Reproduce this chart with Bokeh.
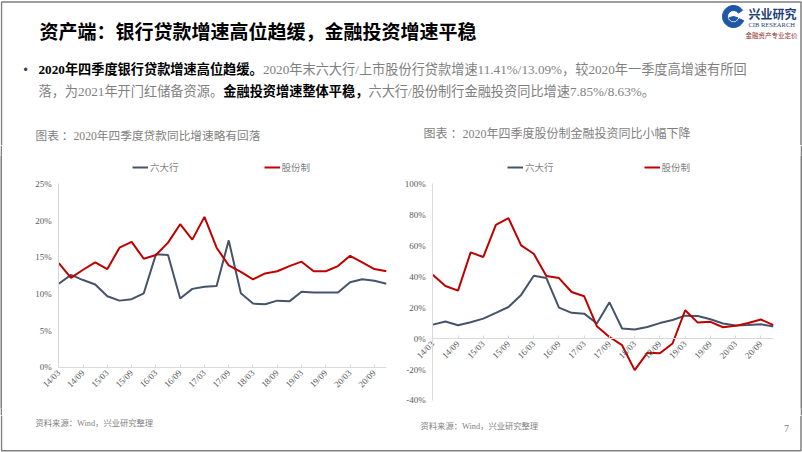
import math
from bokeh.plotting import figure
from bokeh.models import Range1d, Legend, LegendItem, FixedTicker, PrintfTickFormatter
from bokeh.layouts import column, row
from bokeh.embed import file_html
from bokeh.resources import INLINE
from bokeh.core.properties import value

# ---------------- data ----------------
quarters = ["14/03", "14/06", "14/09", "14/12", "15/03", "15/06", "15/09", "15/12",
            "16/03", "16/06", "16/09", "16/12", "17/03", "17/06", "17/09", "17/12",
            "18/03", "18/06", "18/09", "18/12", "19/03", "19/06", "19/09", "19/12",
            "20/03", "20/06", "20/09", "20/12"]
tick_labels = ["14/03", "14/09", "15/03", "15/09", "16/03", "16/09", "17/03",
               "17/09", "18/03", "18/09", "19/03", "19/09", "20/03", "20/09"]
series_names = ["六大行", "股份制"]

loan_big6 = [11.4, 12.6, 11.9, 11.3, 9.7, 9.1, 9.3, 10.1, 15.4, 15.3, 9.4, 10.7, 11.0, 11.1,
             17.3, 10.1, 8.7, 8.6, 9.1, 9.0, 10.3, 10.2, 10.2, 10.2, 11.6, 12.0, 11.8, 11.41]
loan_jsc = [14.2, 12.2, 13.3, 14.3, 13.4, 16.3, 17.1, 14.8, 15.3, 17.0, 19.5, 17.4, 20.5, 16.3,
            13.9, 13.0, 12.0, 12.8, 13.1, 13.8, 14.4, 13.1, 13.1, 13.8, 15.2, 14.3, 13.4, 13.09]
inv_big6 = [9.0, 11.0, 8.6, 10.5, 12.9, 16.6, 20.4, 28.2, 40.6, 39.1, 20.0, 16.6, 16.1, 9.7,
            23.4, 6.5, 5.8, 7.5, 10.0, 12.0, 14.8, 14.6, 12.5, 9.7, 8.4, 8.7, 9.2, 7.85]
inv_jsc = [41.3, 34.0, 31.0, 55.7, 52.7, 73.5, 77.8, 60.2, 54.8, 40.4, 39.1, 30.1, 27.3, 8.0,
           1.0, -4.3, -20.4, -9.2, -9.5, -3.2, 18.3, 10.3, 10.8, 7.3, 8.2, 10.1, 12.3, 8.63]

slide_title = "资产端：银行贷款增速高位趋缓，金融投资增速平稳"
chart_title_left = "图表 ：2020年四季度贷款同比增速略有回落"
chart_title_right = "图表 ：2020年四季度股份制金融投资同比小幅下降"
source_text = "资料来源：Wind，兴业研究整理"
bullet_line1 = [("2020年四季度银行贷款增速高位趋缓。", True),
                ("2020年末六大行/上市股份行贷款增速11.41%/13.09%，较2020年一季度高增速有所回", False)]
bullet_line2 = [("落，为2021年开门红储备资源。", False),
                ("金融投资增速整体平稳，", True),
                ("六大行/股份制行金融投资同比增速7.85%/8.63%。", False)]

# ---------------- style ----------------
NAVY = "#44546a"
RED = "#c00000"
BORDER = "#7f7f7f"
SERIF = "Liberation Serif, Noto Sans CJK SC"
CJK = "Noto Sans CJK SC"

REG = {"0": .5, "1": .5, "2": .5, "3": .5, "4": .5, "5": .5, "6": .5, "7": .5, "8": .5,
       "9": .5, ".": .25, "%": .833, "/": .278, " ": .25}
BOLD = dict(REG)
BOLD["%"] = 1.0


def run_width(s, bold, size):
    m = BOLD if bold else REG
    return sum(m.get(ch, 1.0) for ch in s) * size


def slide_fig(w, h, x0, x1, y0, y1):
    p = figure(width=w, height=h, x_range=Range1d(x0, x1), y_range=Range1d(y1, y0),
               output_backend="svg", toolbar_location=None, min_border=0,
               x_axis_type=None, y_axis_type=None, outline_line_color=None)
    p.xgrid.visible = False
    p.ygrid.visible = False
    return p


def txt(p, x, y, s, size, color, bold=False, font=SERIF, align="left"):
    p.text(x=[x], y=[y], text=[s], text_font=value(font), text_font_size=value(f"{size}px"),
           text_color=color, text_font_style="bold" if bold else "normal",
           text_baseline="middle", text_align=align)


# ---------------- header (slide pixels 0..802 x 0..145) ----------------
W = 802
hdr = slide_fig(W, 145, 0, 802, 0, 145)
hdr.line(x=[1, 1, 800.5, 800.5], y=[145, 1.5, 1.5, 145], line_color=BORDER, line_width=1.5)
txt(hdr, 39, 30, slide_title, 19, "#000000", bold=True, font=CJK)

# logo
hdr.annular_wedge(x=[733], y=[16], inner_radius=6, outer_radius=11, start_angle=0.6,
                  end_angle=5.9, color="#1d57a5")
hdr.wedge(x=[733], y=[16], radius=4.5, start_angle=3.4, end_angle=6.0, color="#1d57a5")
txt(hdr, 748, 13, "兴业研究", 12, "#1d3f7a", bold=True, font=CJK)
txt(hdr, 748, 24, "CIB RESEARCH", 6.5, "#1d3f7a", font="Liberation Serif")
txt(hdr, 745, 34, "金融资产专业定价", 6.5, "#8a2b2b", font=CJK)

FS = 13.2
txt(hdr, 23, 69, "•", 12, "#404040", font="Liberation Sans")
for ln, yy in ((bullet_line1, 69), (bullet_line2, 91)):
    x = 38
    for s, b in ln:
        txt(hdr, x, yy, s, FS, "#000000" if b else "#7f7f7f", bold=b)
        x += run_width(s, b, FS)

txt(hdr, 35, 136, chart_title_left, 11.7, "#7f7f7f")
txt(hdr, 423, 133, chart_title_right, 12, "#7f7f7f")


# ---------------- charts (axes pinned at zero inside the frame) ----------------
def style_axes(xa, ya, yticks):
    xa.ticker = FixedTicker(ticks=[quarters.index(t) for t in tick_labels])
    xa.major_label_overrides = {quarters.index(t): t for t in tick_labels}
    xa.major_label_orientation = math.pi / 4
    xa.minor_tick_line_color = None
    xa.major_tick_in = 3
    xa.major_tick_out = 0
    xa.major_tick_line_color = "#d9d9d9"
    xa.axis_line_color = "#d9d9d9"
    xa.major_label_standoff = 4
    xa.bounds = (0, len(quarters) - 1)
    xa.fixed_location = 0
    ya.ticker = FixedTicker(ticks=yticks)
    ya.formatter = PrintfTickFormatter(format="%d%%")
    ya.minor_tick_line_color = None
    ya.major_tick_in = 0
    ya.major_tick_out = 0
    ya.axis_line_color = "#d9d9d9"
    ya.major_label_standoff = 7
    ya.bounds = (min(yticks), max(yticks))
    ya.fixed_location = 0
    for a in (xa, ya):
        a.major_label_text_font = "Liberation Serif"
        a.major_label_text_font_size = "9px"
        a.major_label_text_color = "#595959"


def chart(width, xr, yr, right_border, big6, jsc, yticks, legend_x, spacing):
    p = figure(width=width, height=270, x_range=Range1d(*xr), y_range=Range1d(*yr),
               output_backend="svg", toolbar_location=None,
               min_border_left=0, min_border_right=right_border, min_border_top=10,
               min_border_bottom=7, outline_line_color=None)
    p.xgrid.visible = False
    p.ygrid.visible = False
    xs = list(range(len(quarters)))
    r1 = p.line(xs, big6, line_color=NAVY, line_width=2)
    r2 = p.line(xs, jsc, line_color=RED, line_width=2)
    style_axes(p.xaxis[0], p.yaxis[0], yticks)
    leg = Legend(items=[LegendItem(label=series_names[0], renderers=[r1]),
                        LegendItem(label=series_names[1], renderers=[r2])],
                 orientation="horizontal", location=(legend_x, 234), spacing=spacing,
                 glyph_width=16, glyph_height=12, label_height=12, label_standoff=2,
                 label_text_font=CJK, label_text_font_size="9.5px",
                 label_text_color="#7f7f7f", background_fill_alpha=0,
                 border_line_color=None, padding=0, margin=0)
    p.add_layout(leg)
    return p


left = chart(398, (-4.64, len(quarters) - 1), (-5.58, 28.85), 14, loan_big6, loan_jsc,
             [0, 5, 10, 15, 20, 25], 130, 85)
right = chart(400, (-2.56, len(quarters) - 1), (-45.2, 118.3), 27, inv_big6, inv_jsc,
              [-40, -20, 0, 20, 40, 60, 80, 100], 107, 90)


def bar():
    b = figure(width=2, height=270, output_backend="svg", toolbar_location=None, min_border=0,
               x_axis_type=None, y_axis_type=None, outline_line_color=None,
               background_fill_color=BORDER, border_fill_color=BORDER)
    b.xgrid.visible = False
    b.ygrid.visible = False
    return b


# ---------------- footer (slide pixels 415..452) ----------------
ftr = slide_fig(W, 37, 0, 802, 415, 452)
ftr.line(x=[1, 1, 800.5, 800.5], y=[415, 450.25, 450.25, 415], line_color=BORDER, line_width=1.5)
txt(ftr, 35, 423, source_text, 8.3, "#7f7f7f")
txt(ftr, 420, 426, source_text, 8.3, "#7f7f7f")
txt(ftr, 786, 428, "7", 10, "#7f7f7f", font="Liberation Serif", align="center")

layout = column(hdr, row(bar(), left, right, bar(), spacing=0), ftr, spacing=0)
open("out.html", "w").write(file_html(layout, INLINE))
